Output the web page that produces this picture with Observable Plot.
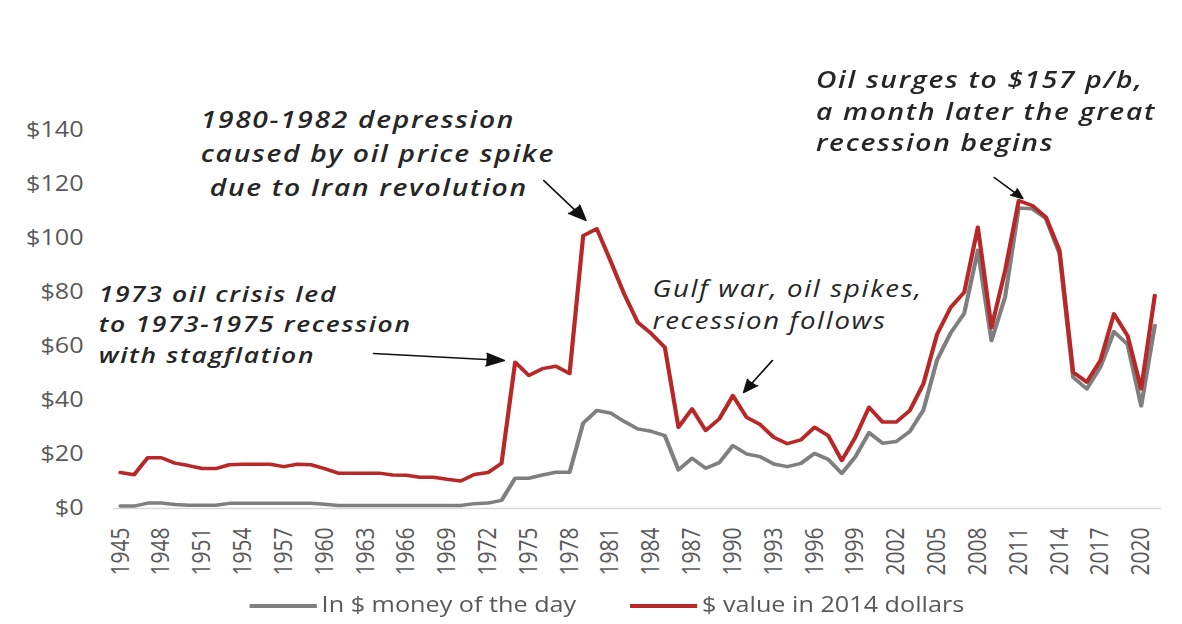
<!DOCTYPE html>
<html>
<head>
<meta charset="utf-8">
<script src="https://cdn.jsdelivr.net/npm/d3@7"></script>
<script src="https://cdn.jsdelivr.net/npm/@observablehq/plot@0.6"></script>
<style>
  html, body { margin: 0; padding: 0; background: #fff; width: 1182px; height: 624px; overflow: hidden; }
  #wrap { position: relative; width: 985px; height: 624px; transform: scaleX(1.2); transform-origin: 0 0; }
  #chart svg { display: block; }
  #chart g[aria-label="text"] text { letter-spacing: 1.4px; }
  .lg { position: absolute; font-family: 'Open Sans', sans-serif; font-size: 21px; color: #595959; white-space: nowrap; line-height: 1; }
  .sw { position: absolute; height: 3.5px; }
</style>
</head>
<body>
<div id="wrap">
  <div id="chart"></div>
  <div class="sw" style="left:208px; top:604px; width:56px; background:#7F7F7F;"></div>
  <div class="lg" style="left:268px; top:594px;">In $ money of the day</div>
  <div class="sw" style="left:525px; top:604px; width:56px; background:#B92828;"></div>
  <div class="lg" style="left:585px; top:594px;">$ value in 2014 dollars</div>
</div>
<script>
// ---- data ----
const years = [1945,1946,1947,1948,1949,1950,1951,1952,1953,1954,1955,1956,1957,1958,1959,1960,
  1961,1962,1963,1964,1965,1966,1967,1968,1969,1970,1971,1972,1973,1974,1975,1976,1977,1978,1979,1980,
  1981,1982,1983,1984,1985,1986,1987,1988,1989,1990,1991,1992,1993,1994,1995,1996,1997,1998,1999,2000,
  2001,2002,2003,2004,2005,2006,2007,2008,2009,2010,2011,2012,2013,2014,2015,2016,2017,2018,2019,2020,2021];

// In $ money of the day
const nominal = [0.9,0.9,2.0,2.0,1.5,1.2,1.2,1.2,1.9,1.9,1.9,1.9,1.9,1.9,1.9,1.6,
  1.1,1.1,1.1,1.1,1.1,1.1,1.1,1.1,1.1,1.1,1.8,2.0,3.0,11.2,11.2,12.4,13.4,13.4,31.6,36.3,
  35.4,32.3,29.5,28.6,27.0,14.3,18.6,14.9,17.0,23.3,20.2,19.2,16.5,15.5,16.7,20.4,18.2,13.0,19.2,28.1,
  24.2,24.8,28.5,36.5,55.0,65.0,72.3,95.6,62.2,78.3,111.3,111.0,107.4,94.4,48.6,44.3,52.3,65.5,60.8,38.0,67.8];

// $ value in 2014 dollars
const real = [13.3,12.5,18.8,18.8,16.8,15.9,14.8,14.8,16.2,16.4,16.4,16.4,15.5,16.4,16.2,14.8,
  13.1,13.1,13.1,13.1,12.4,12.3,11.6,11.6,10.8,10.2,12.6,13.3,16.7,54.2,49.3,51.8,52.7,50.0,101.0,103.6,
  91.8,79.6,69.0,64.8,59.7,30.1,36.9,28.9,33.2,41.8,33.8,31.1,26.4,24.0,25.4,30.1,27.0,17.8,26.4,37.5,
  32.0,32.0,36.3,46.2,64.5,74.5,80.1,104.2,67.0,88.0,114.0,112.2,107.9,95.6,50.5,46.8,54.8,72.1,64.0,44.3,78.9];

const xTicks = [1945,1948,1951,1954,1957,1960,1963,1966,1969,1972,1975,1978,1981,1984,1987,1990,1993,1996,1999,2002,2005,2008,2011,2014,2017,2020];
const yTicks = [0,20,40,60,80,100,120,140];

// annotations anchored in data space (year, $ value)
const noteTexts = [
  "1973 oil crisis led\nto 1973-1975 recession\nwith stagflation",
  "1980-1982 depression\ncaused by oil price spike\n\u00a0due to Iran revolution",
  "Gulf war, oil spikes,\nrecession follows",
  "Oil surges to $157 p/b,\na month later the great\nrecession begins"
];
const noteYears = [1943.4, 1950.9, 1984.1, 1996.1];
const noteValues = [84.5, 150.0, 86.6, 164.3];

const arrowFromYear = [1963.6, 1976.1, 1992.9, 2009.2];
const arrowFromValue = [57.4, 121.5, 54.8, 122.6];
const arrowToYear = [1973.2, 1979.2, 1990.8, 2011.3];
const arrowToValue = [54.8, 106.7, 43.0, 114.8];

// ---- build tables ----
const data = years.map((y, i) => ({year: y, nominal: nominal[i], real: real[i]}));
const notes = noteTexts.map((t, i) => ({text: t, x: noteYears[i], y: noteValues[i]}));
const arrows = arrowFromYear.map((x1, i) => ({x1, y1: arrowFromValue[i], x2: arrowToYear[i], y2: arrowToValue[i]}));

const noteStyle = {x: "x", y: "y", text: "text", textAnchor: "start", lineAnchor: "top",
  fontStyle: "italic", fill: "#262626"};

const chart = Plot.plot({
  width: 985,
  height: 585,
  marginLeft: 94.2,
  marginRight: 17.5,
  marginTop: 130,
  marginBottom: 77,
  x: {domain: [1944.5, 2021.5]},
  y: {domain: [0, 140]},
  style: {fontFamily: "'Open Sans', sans-serif", background: "#fff", overflow: "visible"},
  marks: [
    Plot.ruleY([0], {stroke: "#D9D9D9", strokeWidth: 1.5}),
    Plot.axisY({ticks: yTicks, tickSize: 0, tickPadding: 25, tickFormat: d => "$" + d,
      fontSize: 21, color: "#595959", label: null}),
    Plot.axisX({ticks: xTicks, tickSize: 0, tickPadding: 19, tickRotate: -90, tickFormat: d => String(d),
      fontSize: 21, color: "#595959", label: null}),
    Plot.line(data, {x: "year", y: "nominal", stroke: "#7F7F7F", strokeWidth: 3.5, strokeLinejoin: "round"}),
    Plot.line(data, {x: "year", y: "real", stroke: "#B92828", strokeWidth: 3.5, strokeLinejoin: "round"}),
    Plot.text([notes[0]], {...noteStyle, fontSize: 22, fontWeight: 600, lineHeight: 1.386}),
    Plot.text([notes[1]], {...noteStyle, fontSize: 23.5, fontWeight: 600, lineHeight: 1.447}),
    Plot.text([notes[2]], {...noteStyle, fontSize: 23, fontWeight: 400, lineHeight: 1.39}),
    Plot.text([notes[3]], {...noteStyle, fontSize: 23.5, fontWeight: 600, lineHeight: 1.36}),
    Plot.arrow(arrows, {x1: "x1", y1: "y1", x2: "x2", y2: "y2", stroke: "#111", fill: "#111",
      strokeWidth: 1.5, headLength: 16, headAngle: 45})
  ]
});
document.getElementById("chart").appendChild(chart);
</script>
</body>
</html>
